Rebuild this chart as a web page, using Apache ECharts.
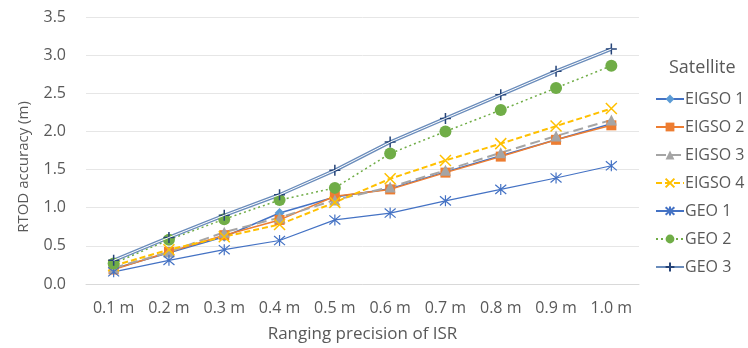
<!DOCTYPE html>
<html>
<head>
<meta charset="utf-8">
<script src="https://cdn.jsdelivr.net/npm/echarts@6/dist/echarts.min.js"></script>
<style>html,body{margin:0;padding:0;background:#fff;}#c{width:748px;height:348px;}</style>
</head>
<body>
<div id="c"></div>
<script>
var categories = ['0.1 m','0.2 m','0.3 m','0.4 m','0.5 m','0.6 m','0.7 m','0.8 m','0.9 m','1.0 m'];
var eigso1 = [0.20, 0.41, 0.62, 0.93, 1.14, 1.25, 1.47, 1.68, 1.89, 2.10];
var eigso2 = [0.19, 0.42, 0.64, 0.84, 1.15, 1.24, 1.46, 1.67, 1.89, 2.08];
var eigso3 = [0.21, 0.42, 0.68, 0.87, 1.10, 1.27, 1.49, 1.72, 1.94, 2.15];
var eigso4 = [0.24, 0.45, 0.62, 0.78, 1.07, 1.38, 1.62, 1.84, 2.07, 2.30];
var geo1 = [0.16, 0.31, 0.45, 0.57, 0.84, 0.93, 1.09, 1.24, 1.39, 1.55];
var geo2 = [0.27, 0.58, 0.85, 1.10, 1.26, 1.71, 2.00, 2.28, 2.57, 2.86];
var geo3 = [0.31, 0.61, 0.90, 1.17, 1.49, 1.86, 2.17, 2.48, 2.79, 3.08];
var yTicks = [0, 0.5, 1.0, 1.5, 2.0, 2.5, 3.0, 3.5];

var FONT = '"Open Sans", sans-serif';
var TXT = '#595959';
var X_PATH = 'path://M0,0L10,10M10,0L0,10';
var AST_PATH = 'path://M0,0L10,10M10,0L0,10M5,-1L5,11';
var PLUS_PATH = 'path://M5,0L5,10M0,5L10,5';

function strokeSym(color, w){ return {color: color, borderColor: color, borderWidth: w}; }

var chart = echarts.init(document.getElementById('c'), null, {renderer:'canvas'});
chart.setOption({
  animation: false,
  backgroundColor: '#fff',
  title: {
    text: 'Satellite', left: 664, top: 54,
    textStyle: {fontFamily: FONT, fontSize: 18, fontWeight: 'normal', color: TXT}
  },
  graphic: [{
    type: 'text', x: 24, y: 167, rotation: Math.PI / 2, silent: true,
    style: {text: 'RTOD accuracy (m)', fontFamily: FONT, fontSize: 15, fill: TXT,
            align: 'center', verticalAlign: 'middle'}
  }],
  legend: {
    orient: 'vertical', left: 650, top: 86, itemGap: 12, itemWidth: 28, itemHeight: 11,
    textStyle: {fontFamily: FONT, fontSize: 16, color: TXT, padding: [0,0,0,-4]},
    data: ['EIGSO 1','EIGSO 2','EIGSO 3','EIGSO 4','GEO 1','GEO 2','GEO 3']
  },
  grid: {left: 86, right: 109, top: 17, bottom: 64},
  xAxis: {
    type: 'category', data: categories, boundaryGap: true,
    axisLine: {lineStyle: {color: '#D9D9D9'}}, axisTick: {show: false},
    axisLabel: {fontFamily: FONT, fontSize: 16, color: TXT, margin: 16, interval: 0},
    name: 'Ranging precision of ISR', nameLocation: 'middle', nameGap: 42,
    nameTextStyle: {fontFamily: FONT, fontSize: 17, color: TXT}
  },
  yAxis: {
    type: 'value', min: yTicks[0], max: yTicks[yTicks.length-1], interval: 0.5,
    axisLine: {show: false}, axisTick: {show: false},
    splitLine: {lineStyle: {color: '#E6E6E6'}},
    axisLabel: {fontFamily: FONT, fontSize: 16, color: TXT, margin: 20, formatter: function(v){return v.toFixed(1);}}
  },
  series: [
    {name: 'EIGSO 1', type: 'line', data: eigso1, symbol: 'diamond', symbolSize: 10,
     lineStyle: {color: '#4472C4', width: 1.5}, itemStyle: {color: '#5B9BD5'}},
    {name: 'EIGSO 2', type: 'line', data: eigso2, symbol: 'rect', symbolSize: 10,
     lineStyle: {color: '#ED7D31', width: 1.5}, itemStyle: {color: '#ED7D31'}},
    {name: 'EIGSO 3', type: 'line', data: eigso3, symbol: 'triangle', symbolSize: 11,
     lineStyle: {color: '#A5A5A5', width: 2, type: [10, 5]}, itemStyle: {color: '#A5A5A5'}},
    {name: 'EIGSO 4', type: 'line', data: eigso4, symbol: X_PATH, symbolSize: 11,
     lineStyle: {color: '#FFC000', width: 2, type: [6, 3]}, itemStyle: strokeSym('#FFC000', 1.5)},
    {name: 'GEO 1', type: 'line', data: geo1, symbol: AST_PATH, symbolSize: 11,
     lineStyle: {color: '#4472C4', width: 1.2}, itemStyle: strokeSym('#4472C4', 1.2)},
    {name: 'GEO 2', type: 'line', data: geo2, symbol: 'circle', symbolSize: 12,
     lineStyle: {color: '#70AD47', width: 1.5, type: [2, 3]}, itemStyle: {color: '#70AD47'}},
    {name: 'GEO 3', type: 'line', data: geo3, symbol: PLUS_PATH, symbolSize: 11, z: 3,
     lineStyle: {color: '#6A8CBB', width: 3.5}, itemStyle: strokeSym('#264478', 1.5)},
    {name: 'GEO 3 core', type: 'line', data: geo3, symbol: 'none', z: 4, silent: true,
     lineStyle: {color: '#FFFFFF', width: 1}}
  ]
});
</script>
</body>
</html>
